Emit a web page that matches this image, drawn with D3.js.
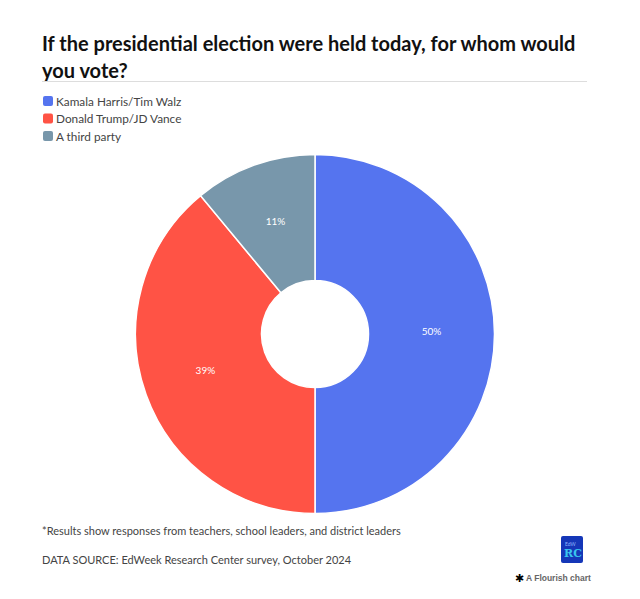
<!DOCTYPE html>
<html>
<head>
<meta charset="utf-8">
<script src="https://cdn.jsdelivr.net/npm/d3@7"></script>
<style>
  body { margin: 0; background: #fff; font-family: "Source Sans Pro", "Lato", "Noto Sans", sans-serif; }
</style>
</head>
<body>
<svg id="chart"></svg>
<script>
// chart data
var categories = ["Kamala Harris/Tim Walz", "Donald Trump/JD Vance", "A third party"];
var values = [50, 39, 11];
var colors = ["#5574EF", "#FF5345", "#7897AB"];

var svgWidth = 640, svgHeight = 599;
var svg = d3.select("#chart")
    .attr("width", svgWidth)
    .attr("height", svgHeight);

// title
var title = svg.append("text")
    .attr("x", 42)
    .attr("font-size", 20)
    .attr("font-weight", "bold")
    .attr("fill", "#111");
title.append("tspan").attr("x", 42).attr("y", 51).text("If the presidential election were held today, for whom would");
title.append("tspan").attr("x", 42).attr("y", 78).text("you vote?");

svg.append("line")
    .attr("x1", 42).attr("x2", 587)
    .attr("y1", 81.5).attr("y2", 81.5)
    .attr("stroke", "#ddd");

// legend
var legend = svg.append("g").attr("transform", "translate(42,95)");
var rows = legend.selectAll("g")
    .data(categories)
    .enter().append("g")
    .attr("transform", (d, i) => "translate(0," + (i * 17.5) + ")");
rows.append("rect")
    .attr("x", 1).attr("y", 1)
    .attr("width", 10).attr("height", 10)
    .attr("rx", 2)
    .attr("fill", (d, i) => colors[i]);
rows.append("text")
    .attr("x", 14).attr("y", 10.5)
    .attr("font-size", 11.8)
    .attr("fill", "#444")
    .text(d => d);

// donut
var cx = 315, cy = 334;
var outerR = 179.5, innerR = 53.5;

var pie = d3.pie().sort(null).value(d => d);
var arc = d3.arc().innerRadius(innerR).outerRadius(outerR);

var g = svg.append("g").attr("transform", "translate(" + cx + "," + cy + ")");
var slices = g.selectAll("g")
    .data(pie(values))
    .enter().append("g");

slices.append("path")
    .attr("d", arc)
    .attr("fill", (d, i) => colors[i])
    .attr("stroke", "#fff")
    .attr("stroke-width", 1.5);

slices.append("text")
    .attr("transform", d => "translate(" + arc.centroid(d) + ")")
    .attr("text-anchor", "middle")
    .attr("dy", "0.1em")
    .attr("font-size", 10)
    .attr("fill", "#fff")
    .text(d => d.data + "%");

// footer
svg.append("text")
    .attr("x", 42).attr("y", 535)
    .attr("font-size", 11)
    .attr("fill", "#444")
    .text("*Results show responses from teachers, school leaders, and district leaders");
svg.append("text")
    .attr("x", 42).attr("y", 564)
    .attr("font-size", 11)
    .attr("fill", "#444")
    .text("DATA SOURCE: EdWeek Research Center survey, October 2024");

// logo
var logo = svg.append("g").attr("transform", "translate(561,536)");
logo.append("rect")
    .attr("width", 22).attr("height", 27)
    .attr("rx", 2)
    .attr("fill", "#1537B8");
logo.append("text")
    .attr("x", 4).attr("y", 10)
    .attr("font-size", 5)
    .attr("fill", "#8fb6ff")
    .text("EdW");
logo.append("text")
    .attr("x", 3).attr("y", 21)
    .attr("font-size", 11)
    .attr("font-weight", "bold")
    .attr("font-family", "DejaVu Serif, serif")
    .attr("fill", "#39c6ef")
    .text("RC");

// flourish credit
var credit = svg.append("g").attr("transform", "translate(515,582)");
credit.append("text")
    .attr("x", 0).attr("y", 0)
    .attr("font-size", 11)
    .attr("fill", "#000")
    .text("\u2731");
credit.append("text")
    .attr("x", 11).attr("y", -1)
    .attr("font-size", 8.5)
    .attr("font-weight", "bold")
    .attr("font-family", "Liberation Sans, Arial, sans-serif")
    .attr("fill", "#666")
    .text("A Flourish chart");
</script>
</body>
</html>
